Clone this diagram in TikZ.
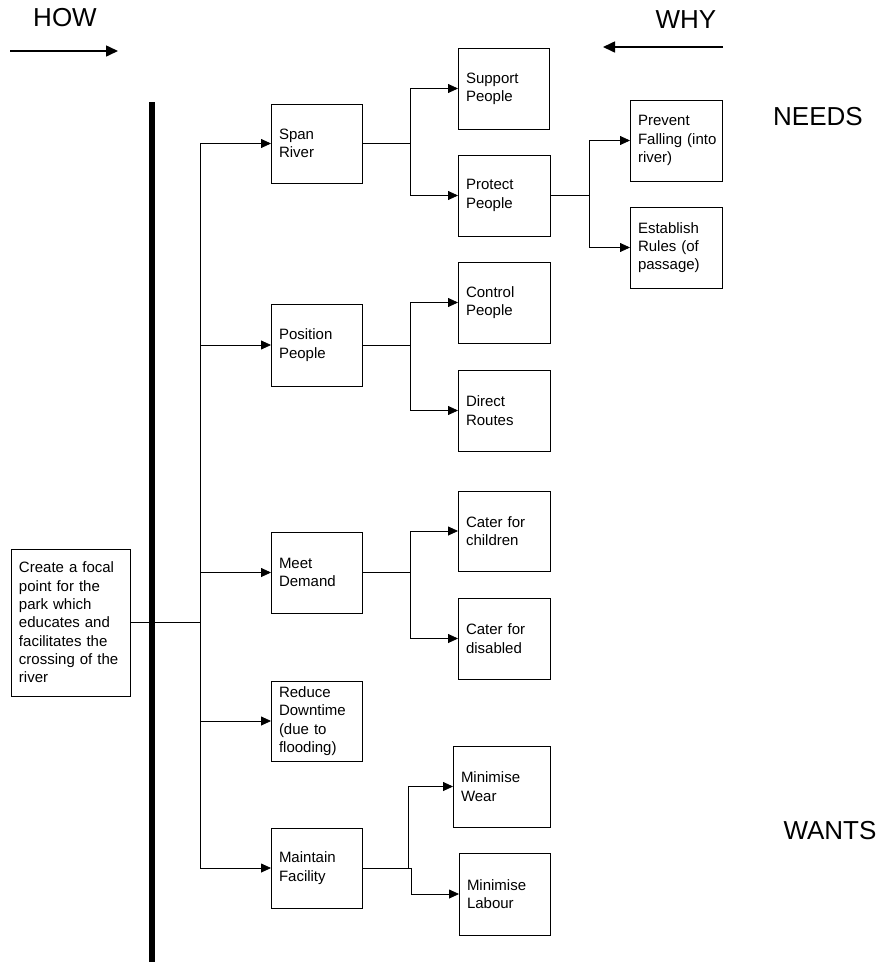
\documentclass[tikz,border=0pt]{standalone}
\usepackage{fontspec}
\setmainfont{Liberation Sans}
\usetikzlibrary{arrows.meta}
\begin{document}
\begin{tikzpicture}[x=1pt,y=-1pt,
  blk/.style={draw, line width=0.8pt, inner xsep=8pt, inner ysep=0pt, outer sep=0pt,
    align=left, anchor=north west, text width=76pt, minimum height=81pt,
    font=\fontsize{15}{18.3}\selectfont},
  link/.style={line width=0.8pt},
  arr/.style={line width=0.8pt, -{Triangle[length=10pt,width=9pt]}},
  bigarr/.style={line width=1.6pt, -{Triangle[length=12pt,width=11pt]}},
  head/.style={font=\fontsize{26}{30}\selectfont, inner sep=0pt}]
\useasboundingbox (0,0) rectangle (883,962);

% direction headings
\node[head] (how) at (65,18) {HOW};
\node[head] (why) at (686,20) {WHY};
\coordinate (howA) at (10,51);
\coordinate (howB) at (118,51);
\coordinate (whyA) at (723,47);
\coordinate (whyB) at (603,47);
\draw[bigarr] (howA) -- (howB);
\draw[bigarr] (whyA) -- (whyB);
\node[head] (needs) at (818,117) {NEEDS};
\node[head] (wants) at (830,831) {WANTS};

% root function
\node[blk, text width=103pt, minimum height=147pt] (focal) at (11,549)
  {Create a focal\\point for the\\park which\\educates and\\facilitates the\\crossing of the\\river};

% first level
\node[blk, text width=75pt, minimum height=79pt] (span) at (271,104) {Span\\River};
\node[blk, text width=75pt, minimum height=82pt] (pos) at (271,304) {Position\\People};
\node[blk, text width=75pt, minimum height=81pt] (meet) at (271,532) {Meet\\Demand};
\node[blk, text width=75pt, minimum height=80pt] (reduce) at (271,681) {Reduce\\Downtime\\(due to\\flooding)};
\node[blk, text width=75pt, minimum height=80pt] (maint) at (271,828) {Maintain\\Facility};

% second level
\node[blk, text width=75pt] (support) at (458,48) {Support\\People};
\node[blk, text width=76pt] (protect) at (458,155) {Protect\\People};
\node[blk, text width=76pt] (control) at (458,262) {Control\\People};
\node[blk, text width=76pt] (direct) at (458,370) {Direct\\Routes};
\node[blk, text width=76pt, minimum height=80pt] (children) at (458,491) {Cater for\\children};
\node[blk, text width=76pt] (disabled) at (458,598) {Cater for\\disabled};
\node[blk, text width=81pt] (wear) at (453,746) {Minimise\\Wear};
\node[blk, text width=75pt, minimum height=82pt] (labour) at (459,853) {Minimise\\Labour};

% third level
\node[blk, text width=76pt] (prevent) at (630,100) {Prevent\\\mbox{Falling (into}\\river)};
\node[blk, text width=76pt] (rules) at (630,207) {Establish\\Rules (of\\passage)};

% junction lines
\coordinate (trunk) at (200,0);
\coordinate (j1) at (410,0);
\coordinate (j2) at (589,0);
\coordinate (j5a) at (408,0);
\coordinate (j5b) at (411,0);

% trunk from the root to the first level
\draw[link] (focal.east) -- (trunk |- focal.east);
\draw[link] (trunk |- span.west) -- (trunk |- maint.west);
\foreach \n in {span,pos,meet,reduce,maint}
  \draw[arr] (trunk |- \n.west) -- (\n.west);

% first level to second level
\draw[link] (span.east) -- (j1 |- span.east);
\draw[arr] (j1 |- span.east) |- (support.west);
\draw[arr] (j1 |- span.east) |- (protect.west);
\draw[link] (pos.east) -- (j1 |- pos.east);
\draw[arr] (j1 |- pos.east) |- (control.west);
\draw[arr] (j1 |- pos.east) |- (direct.west);
\draw[link] (meet.east) -- (j1 |- meet.east);
\draw[arr] (j1 |- meet.east) |- (children.west);
\draw[arr] (j1 |- meet.east) |- (disabled.west);
\draw[link] (maint.east) -- (j5b |- maint.east);
\draw[arr] (j5a |- maint.east) |- (wear.west);
\draw[arr] (j5b |- maint.east) |- (labour.west);

% second level to third level
\draw[link] (protect.east) -- (j2 |- protect.east);
\draw[arr] (j2 |- protect.east) |- (prevent.west);
\draw[arr] (j2 |- protect.east) |- (rules.west);

% heavy divider
\coordinate (barTop) at (151.5,102);
\coordinate (barBot) at (151.5,962);
\draw[line width=6pt] (barTop) -- (barBot);
\end{tikzpicture}
\end{document}
